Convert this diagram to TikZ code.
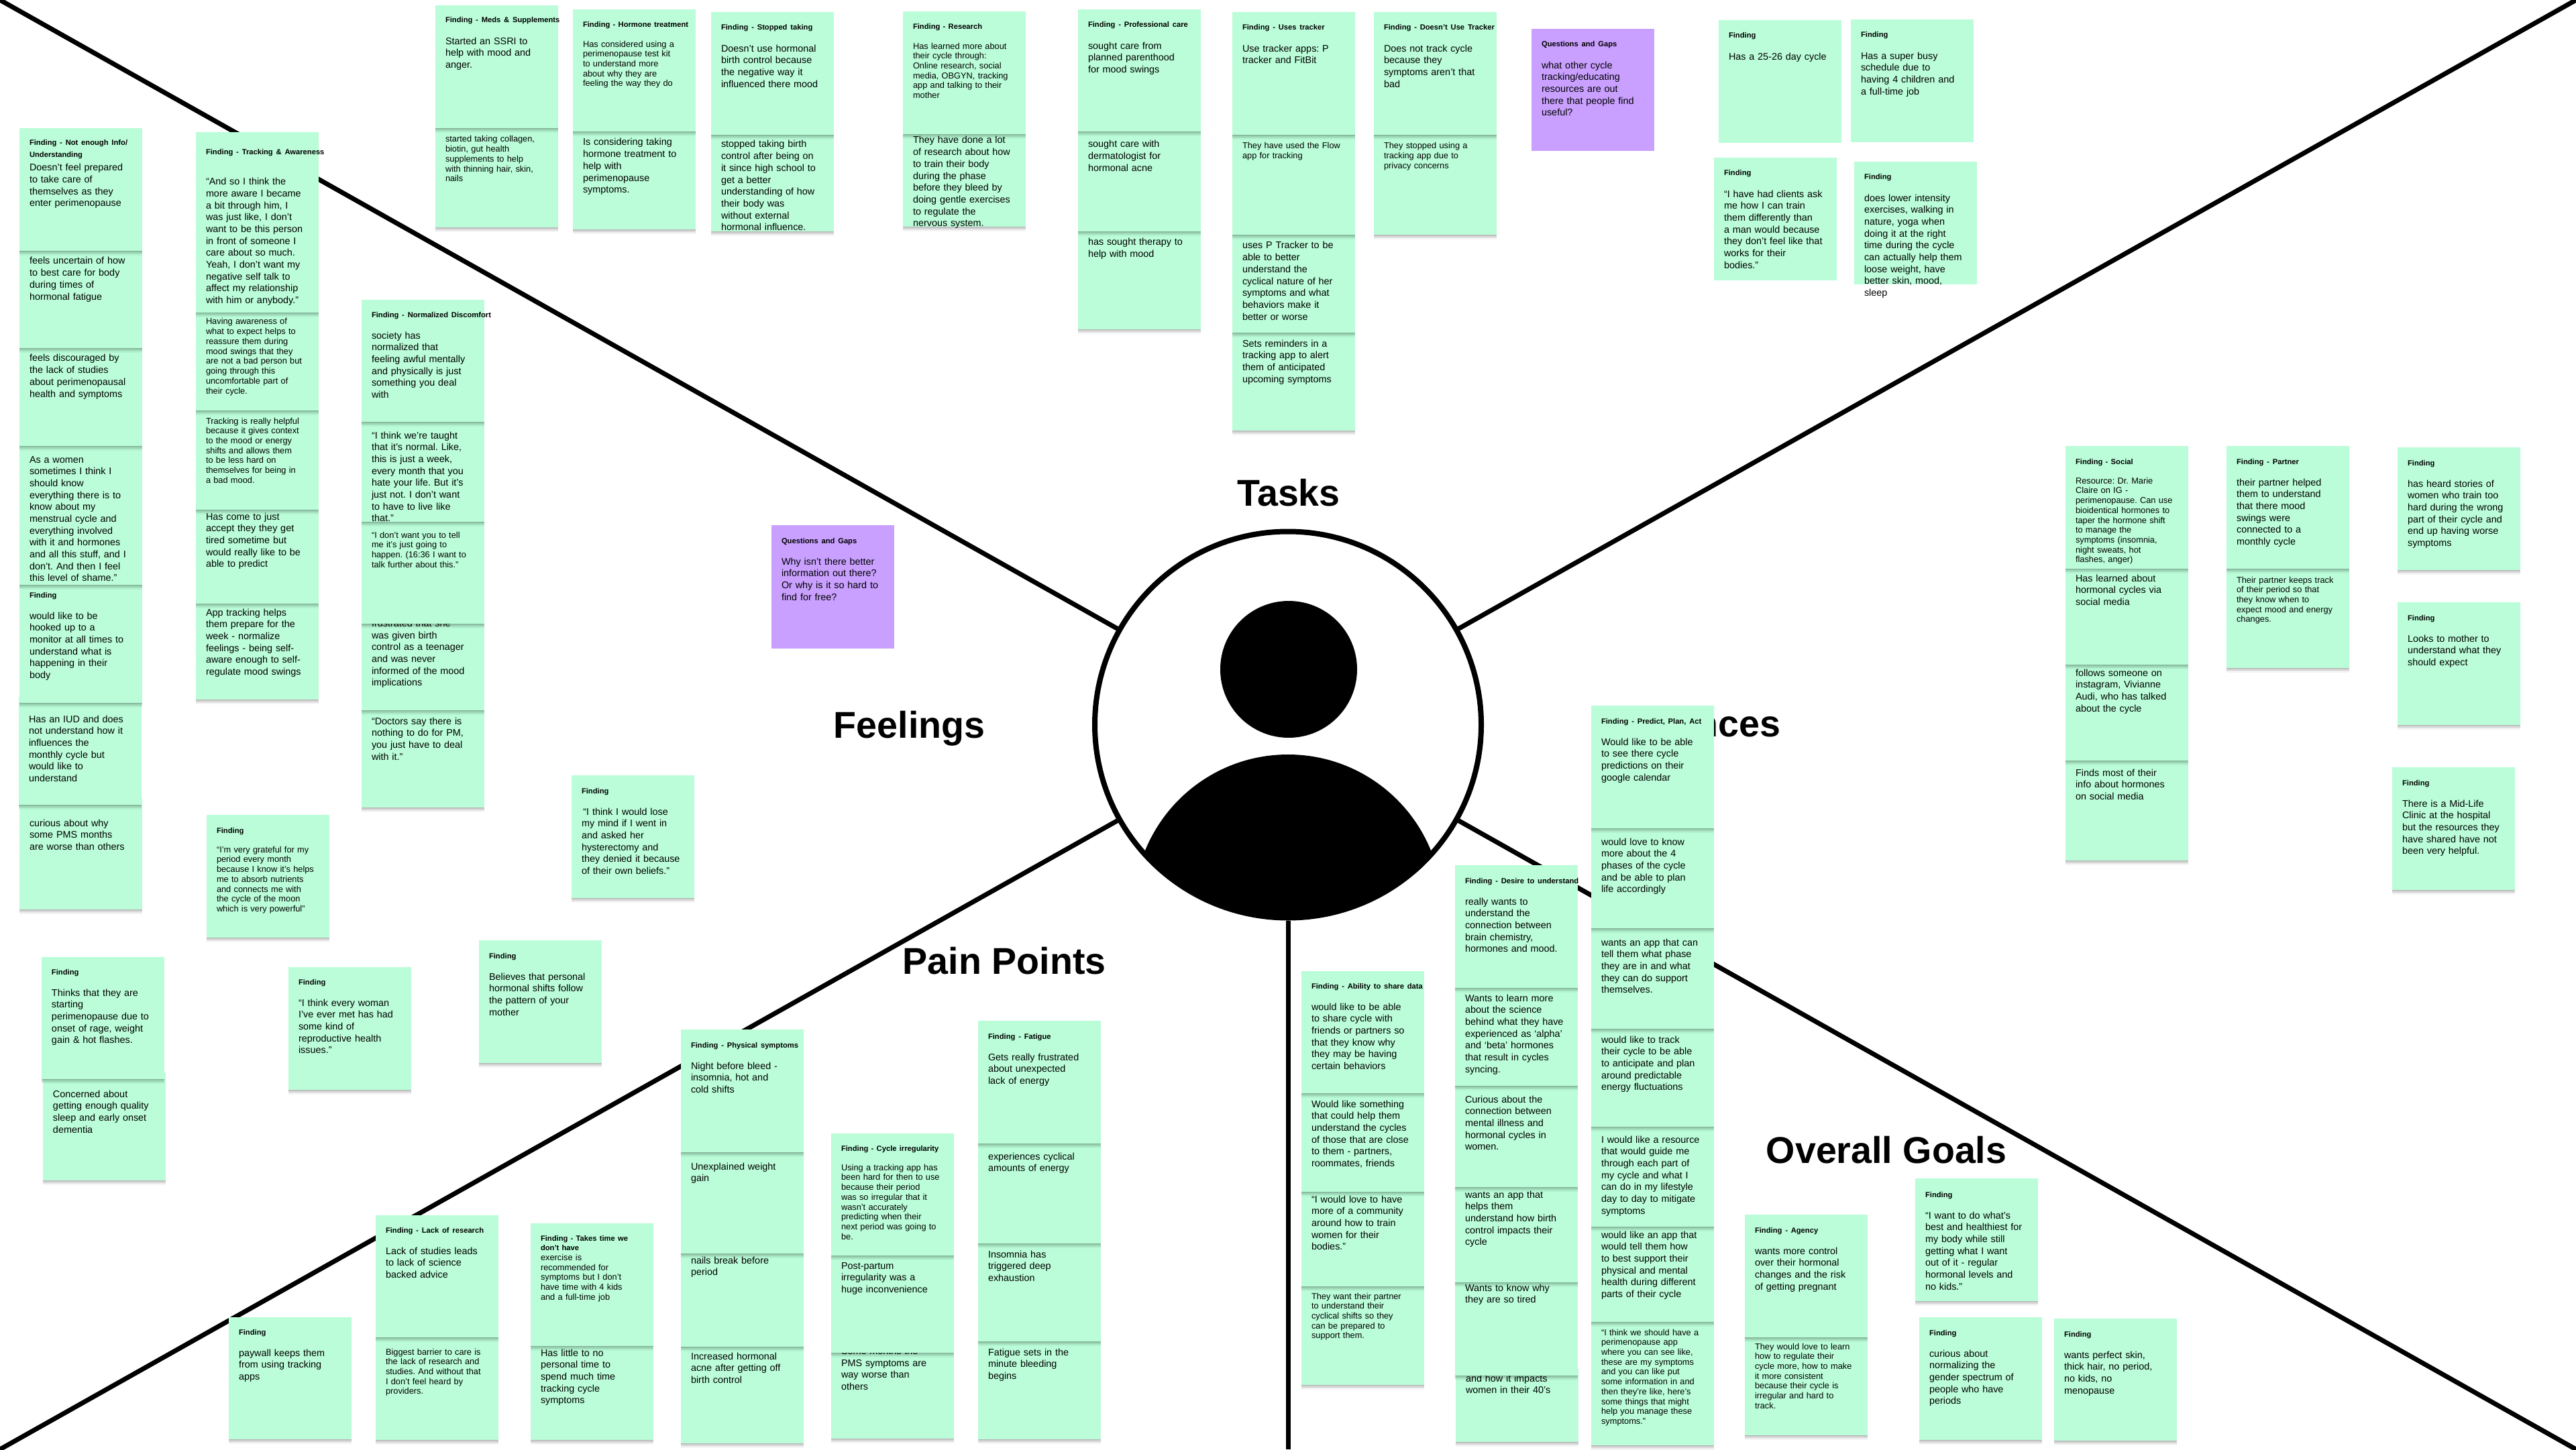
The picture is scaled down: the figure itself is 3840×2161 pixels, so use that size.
\documentclass[tikz,border=0pt]{standalone}
\usepackage{fontspec}
\setmainfont{Liberation Sans}
\usetikzlibrary{shadows}

\definecolor{mint}{HTML}{BAFDD8}
\definecolor{lilac}{HTML}{C9A0FF}
\newcommand{\bodyfont}{\fontsize{3.6pt}{4.42pt}\selectfont}
\newcommand{\smallbody}{\fontsize{3.2pt}{3.68pt}\selectfont}
\newcommand{\ttlfont}{\fontsize{2.8pt}{3.7pt}\selectfont\bfseries}
\newcommand{\ttl}[2][3.6pt]{{\ttlfont #2}\\[#1]}

\begin{document}
\begin{tikzpicture}[x=0.25pt,y=-0.25pt]
\tikzset{sized/.style 2 args={text height=#2*0.25pt, text depth=(#1-#2)*0.25pt}}
\tikzstyle{softshadow} = [drop shadow={shadow xshift=0pt, shadow yshift=-0.3pt, opacity=.08, fill=black},
drop shadow={shadow xshift=0pt, shadow yshift=-0.6pt, opacity=.08, fill=black},
drop shadow={shadow xshift=0pt, shadow yshift=-0.9pt, opacity=.07, fill=black},
drop shadow={shadow xshift=0pt, shadow yshift=-1.3pt, opacity=.05, fill=black},
drop shadow={shadow xshift=0pt, shadow yshift=-1.7pt, opacity=.04, fill=black}]
\tikzstyle{flatnote} = [rectangle, anchor=north west, fill=mint, text width=38.25pt, inner xsep=3.75pt,
inner ysep=0pt, outer sep=0pt, align=left, font=\bodyfont,
execute at begin node={\rightskip=-30pt plus 1fil\relax\frenchspacing}]
\tikzstyle{note} = [flatnote, softshadow]
\tikzstyle{small} = [font=\smallbody]
\tikzstyle{gapnote} = [flatnote, fill=lilac]
\tikzstyle{spoke} = [draw, line width=1.75pt]
\tikzstyle{heading} = [font=\fontsize{13.9pt}{16pt}\selectfont\bfseries, inner sep=0pt]

\useasboundingbox (0,0) rectangle (3840,2161);

\coordinate (nw) at (0,0);
\coordinate (ne) at (3840,0);
\coordinate (sw) at (0,2161);
\coordinate (se) at (3840,2161);
\coordinate (foot) at (1920,2161);

% person in the middle
\node [circle, draw, line width=2pt, fill=white, minimum size=144pt, inner sep=0pt] (persona) at (1920,1080.5) {};
\path [spoke] (persona) -- (nw);
\path [spoke] (persona) -- (ne);
\path [spoke] (persona) -- (sw);
\path [spoke] (persona) -- (se);
\path [spoke] (persona) -- (foot);
\node [circle, fill=black, minimum size=51pt, inner sep=0pt] (head) at (1921,998) {};
\begin{scope}
\clip (1920,1080.5) circle (288);
\fill [black] (1920,1355) circle (230);
\end{scope}

% headings
\node [heading, anchor=base] (tasks) at (1921,754) {Tasks};
\node [heading, anchor=base west] (feelings) at (1242,1100) {Feelings};
\node [heading, anchor=base east] (influences) at (2655,1098) {Influences};
\node [heading, anchor=base west] (painpoints) at (1345,1452) {Pain Points};
\node [heading, anchor=base west] (goals) at (2632,1734) {Overall Goals};

% not enough info
\node [note, sized={166}{42}] (info7) at (29,1190) {curious about why\\some PMS months\\are worse than others};
\node [note, sized={162}{39}] (info6) at (28,1038) {Has an IUD and does\\not understand how it\\influences the\\monthly cycle but\\would like to\\understand};
\node [note, sized={186}{29}] (info5) at (29,862) {\ttl{Finding}would like to be\\hooked up to a\\monitor at all times to\\understand what is\\happening in their\\body};
\node [note, sized={217}{35}] (info4) at (29,655) {As a women\\sometimes I think I\\should know\\everything there is to\\know about my\\menstrual cycle and\\everything involved\\with it and hormones\\and all this stuff, and I\\don't. And then I feel\\this level of shame.”};
\node [note, sized={156}{30}] (info3) at (29,509) {feels discouraged by\\the lack of studies\\about perimenopausal\\health and symptoms};
\node [note, sized={155}{30}] (info2) at (29,364) {feels uncertain of how\\to best care for body\\during times of\\hormonal fatigue};
\node [note, sized={183}{26}] (info1) at (29,191) {\ttl[0.6pt]{Finding - Not enough Info/\\Understanding}Doesn’t feel prepared\\to take care of\\themselves as they\\enter perimenopause};

% tracking and awareness
\node [note, sized={153}{28}] (aware5) at (292,890) {App tracking helps\\them prepare for the\\week - normalize\\feelings - being self-\\aware enough to self-\\regulate mood swings};
\node [note, sized={150}{25}] (aware4) at (292,750) {Has come to just\\accept they they get\\tired sometime but\\would really like to be\\able to predict};
\node [note, small, sized={158}{30}] (aware3) at (292,602) {Tracking is really helpful\\because it gives context\\to the mood or energy\\shifts and allows them\\to be less hard on\\themselves for being in\\a bad mood.};
\node [note, small, sized={156}{28}] (aware2) at (292,456) {Having awareness of\\what to expect helps to\\reassure them during\\mood swings that they\\are not a bad person but\\going through this\\uncomfortable part of\\their cycle.};
\node [note, sized={269}{34}] (aware1) at (292,197) {\ttl[6.8pt]{Finding - Tracking \& Awareness}“And so I think the\\more aware I became\\a bit through him, I\\was just like, I don't\\want to be this person\\in front of someone I\\care about so much.\\Yeah, I don't want my\\negative self talk to\\affect my relationship\\with him or anybody.”};

% normalized discomfort
\node [note, sized={155}{31}] (normal5) at (539,1049) {“Doctors say there is\\nothing to do for PM,\\you just have to deal\\with it.”};
\node [note, sized={139}{14.5}] (normal4) at (539,920) {frustrated that she\\was given birth\\control as a teenager\\and was never\\informed of the mood\\implications};
\node [note, small, sized={162}{34}] (normal3) at (539,768) {“I don't want you to tell\\me it's just going to\\happen. (16:36 I want to\\talk further about this.”};
\node [note, sized={159}{35}] (normal2) at (539,619) {“I think we're taught\\that it's normal. Like,\\this is just a week,\\every month that you\\hate your life. But it's\\just not. I don't want\\to have to live like\\that.”};
\node [note, sized={182}{26}] (normal1) at (539,447) {\ttl{Finding - Normalized Discomfort}society has\\normalized that\\feeling awful mentally\\and physically is just\\something you deal\\with};

% meds
\node [note, small, sized={158}{31}] (meds2) at (649,181) {started taking collagen,\\biotin, gut health\\supplements to help\\with thinning hair, skin,\\nails};
\node [note, sized={183}{26}] (meds1) at (649,8) {\ttl{Finding - Meds \& Supplements}Started an SSRI to\\help with mood and\\anger.};

% hormone treatment
\node [note, sized={156}{31}] (hormone2) at (854,186) {Is considering taking\\hormone treatment to\\help with\\perimenopause\\symptoms.};
\node [note, small, sized={182}{27}] (hormone1) at (854,14) {\ttl{Finding - Hormone treatment}Has considered using a\\perimenopause test kit\\to understand more\\about why they are\\feeling the way they do};

% stopped taking
\node [note, sized={154}{29}] (stopped2) at (1060,191) {stopped taking birth\\control after being on\\it since high school to\\get a better\\understanding of how\\their body was\\without external\\hormonal influence.};
\node [note, sized={183}{27}] (stopped1) at (1060,18) {\ttl{Finding - Stopped taking}Doesn’t use hormonal\\birth control because\\the negative way it\\influenced there mood};

% research
\node [note, sized={148}{24}] (research2) at (1346,190) {They have done a lot\\of research about how\\to train their body\\during the phase\\before they bleed by\\doing gentle exercises\\to regulate the\\nervous system.};
\node [note, small, sized={183}{27}] (research1) at (1346,17) {\ttl{Finding - Research}Has learned more about\\their cycle through:\\Online research, social\\media, OBGYN, tracking\\app and talking to their\\mother};

% professional care
\node [note, sized={156}{31}] (care3) at (1607,335) {has sought therapy to\\help with mood};
\node [note, sized={159}{34}] (care2) at (1607,186) {sought care with\\dermatologist for\\hormonal acne};
\node [note, sized={182}{27}] (care1) at (1607,14) {\ttl{Finding - Professional care}sought care from\\planned parenthood\\for mood swings};

% uses tracker
\node [note, sized={156}{31}] (tracker4) at (1837,486) {Sets reminders in a\\tracking app to alert\\them of anticipated\\upcoming symptoms};
\node [note, sized={156}{31}] (tracker3) at (1837,340) {uses P Tracker to be\\able to better\\understand the\\cyclical nature of her\\symptoms and what\\behaviors make it\\better or worse};
\node [note, small, sized={159}{31}] (tracker2) at (1837,191) {They have used the Flow\\app for tracking};
\node [note, sized={183}{27}] (tracker1) at (1837,18) {\ttl{Finding - Uses tracker}Use tracker apps: P\\tracker and FitBit};

% does not use tracker
\node [note, small, sized={159}{31}] (notrack2) at (2048,191) {They stopped using a\\tracking app due to\\privacy concerns};
\node [note, sized={183}{27}] (notrack1) at (2048,18) {\ttl{Finding - Doesn’t Use Tracker}Does not track cycle\\because they\\symptoms aren’t that\\bad};

% questions
\node [gapnote, sized={182}{27}] (gaps1) at (2283,43) {\ttl{Questions and Gaps}what other cycle\\tracking/educating\\resources are out\\there that people find\\useful?};
\node [gapnote, sized={184}{27}] (gaps2) at (1150,783) {\ttl{Questions and Gaps}Why isn’t there better\\information out there?\\Or why is it so hard to\\find for free?};

% top right, no shadow
\node [flatnote, sized={183}{27}] (cycle) at (2562,30) {\ttl{Finding}Has a 25-26 day cycle};
\node [flatnote, sized={183}{27}] (busy) at (2759,29) {\ttl{Finding}Has a super busy\\schedule due to\\having 4 children and\\a full-time job};
\node [flatnote, sized={183}{27}] (clients) at (2555,235) {\ttl{Finding}“I have had clients ask\\me how I can train\\them differently than\\a man would because\\they don’t feel like that\\works for their\\bodies.”};
\node [flatnote, sized={183}{27}] (lower) at (2764,241) {\ttl{Finding}does lower intensity\\exercises, walking in\\nature, yoga when\\doing it at the right\\time during the cycle\\can actually help them\\loose weight, have\\better skin, mood,\\sleep};

% social
\node [note, sized={159}{33}] (social4) at (3079,1124) {Finds most of their\\info about hormones\\on social media};
\node [note, sized={153}{27}] (social3) at (3079,981) {follows someone on\\instagram, Vivianne\\Audi, who has talked\\about the cycle};
\node [note, sized={153}{29}] (social2) at (3079,838) {Has learned about\\hormonal cycles via\\social media};
\node [note, small, sized={183}{27}] (social1) at (3079,665) {\ttl{Finding - Social}Resource: Dr. Marie\\Claire on IG -\\perimenopause. Can use\\bioidentical hormones to\\taper the hormone shift\\to manage the\\symptoms (insomnia,\\night sweats, hot\\flashes, anger)};

% partner
\node [note, small, sized={158}{31}] (partner2) at (3319,838) {Their partner keeps track\\of their period so that\\they know when to\\expect mood and energy\\changes.};
\node [note, sized={183}{27}] (partner1) at (3319,665) {\ttl{Finding - Partner}their partner helped\\them to understand\\that there mood\\swings were\\connected to a\\monthly cycle};

% far right
\node [note, sized={183}{27}] (stories) at (3574,667) {\ttl{Finding}has heard stories of\\women who train too\\hard during the wrong\\part of their cycle and\\end up having worse\\symptoms};
\node [note, sized={183}{27}] (mother) at (3574,898) {\ttl{Finding}Looks to mother to\\understand what they\\should expect};
\node [note, sized={183}{27}] (clinic) at (3566,1144) {\ttl{Finding}There is a Mid-Life\\Clinic at the hospital\\but the resources they\\have shared have not\\been very helpful.};

% feelings, single notes
\node [note, small, sized={183}{27}] (grateful) at (308,1215) {\ttl{Finding}“I'm very grateful for my\\period every month\\because I know it's helps\\me to absorb nutrients\\and connects me with\\the cycle of the moon\\which is very powerful”};
\node [note, sized={183}{27}] (lose) at (852,1156) {\ttl{Finding}\,“I think I would lose\\my mind if I went in\\and asked her\\hysterectomy and\\they denied it because\\of their own beliefs.”};
\node [note, sized={161}{37}] (concerned) at (64,1599) {Concerned about\\getting enough quality\\sleep and early onset\\dementia};
\node [note, sized={182}{26}] (thinks) at (62,1427) {\ttl{Finding}Thinks that they are\\starting\\perimenopause due to\\onset of rage, weight\\gain \& hot flashes.};
\node [note, sized={183}{26}] (everywoman) at (430,1442) {\ttl{Finding}“I think every woman\\I've ever met has had\\some kind of\\reproductive health\\issues.”};
\node [note, sized={183}{27}] (believes) at (714,1402) {\ttl{Finding}Believes that personal\\hormonal shifts follow\\the pattern of your\\mother};

% pain points
\node [note, sized={182}{26}] (paywall) at (341,1964) {\ttl{Finding}paywall keeps them\\from using tracking\\apps};
\node [note, small, sized={163}{36}] (research4) at (560,1984) {Biggest barrier to care is\\the lack of research and\\studies. And without that\\I don’t feel heard by\\providers.};
\node [note, sized={182}{26}] (research3) at (560,1812) {\ttl{Finding - Lack of research}Lack of studies leads\\to lack of science\\backed advice};
\node [note, sized={150}{25}] (time2) at (791,1997) {Has little to no\\personal time to\\spend much time\\tracking cycle\\symptoms};
\node [note, small, sized={183}{26}] (time1) at (791,1824) {{\ttlfont Finding - Takes time we\\don't have}\\exercise is\\recommended for\\symptoms but I don’t\\have time with 4 kids\\and a full-time job};

% physical symptoms
\node [note, sized={154}{29}] (physical4) at (1015,1998) {Increased hormonal\\acne after getting off\\birth control};
\node [note, sized={149}{25}] (physical3) at (1015,1859) {nails break before\\period};
\node [note, sized={161}{36}] (physical2) at (1015,1708) {Unexplained weight\\gain};
\node [note, sized={183}{27}] (physical1) at (1015,1535) {\ttl{Finding - Physical symptoms}Night before bleed -\\insomnia, hot and\\cold shifts};

% cycle irregularity
\node [note, sized={138}{12.5}] (irregular3) at (1239,2007) {Some months the\\PMS symptoms are\\way worse than\\others};
\node [note, sized={155}{30}] (irregular2) at (1239,1862) {Post-partum\\irregularity was a\\huge inconvenience};
\node [note, small, sized={182}{26}] (irregular1) at (1239,1690) {\ttl{Finding - Cycle irregularity}Using a tracking app has\\been hard for then to use\\because their period\\was so irregular that it\\wasn't accurately\\predicting when their\\next period was going to\\be.};

% fatigue
\node [note, sized={156}{31}] (fatigue4) at (1458,1990) {Fatigue sets in the\\minute bleeding\\begins};
\node [note, sized={156}{31}] (fatigue3) at (1458,1844) {Insomnia has\\triggered deep\\exhaustion};
\node [note, sized={159}{34}] (fatigue2) at (1458,1695) {experiences cyclical\\amounts of energy};
\node [note, sized={183}{27}] (fatigue1) at (1458,1522) {\ttl{Finding - Fatigue}Gets really frustrated\\about unexpected\\lack of energy};

% share data
\node [note, small, sized={157}{29}] (share4) at (1940,1908) {They want their partner\\to understand their\\cyclical shifts so they\\can be prepared to\\support them.};
\node [note, sized={151}{26}] (share3) at (1940,1767) {“I would love to have\\more of a community\\around how to train\\women for their\\bodies.”};
\node [note, sized={157}{31}] (share2) at (1940,1620) {Would like something\\that could help them\\understand the cycles\\of those that are close\\to them - partners,\\roommates, friends};
\node [note, sized={182}{26}] (share1) at (1940,1448) {\ttl{Finding - Ability to share data}would like to be able\\to share cycle with\\friends or partners so\\that they know why\\they may be having\\certain behaviors};

% desire to understand
\node [note, sized={109}{19}] (desire6) at (2170,2041) {and how it impacts\\women in their 40’s};
\node [note, sized={149}{23}] (desire5) at (2169,1902) {Wants to know why\\they are so tired};
\node [note, sized={152}{26}] (desire4) at (2169,1760) {wants an app that\\helps them\\understand how birth\\control impacts their\\cycle};
\node [note, sized={161}{35}] (desire3) at (2169,1609) {Curious about the\\connection between\\mental illness and\\hormonal cycles in\\women.};
\node [note, sized={156}{30}] (desire2) at (2169,1463) {Wants to learn more\\about the science\\behind what they have\\experienced as ‘alpha’\\and ‘beta’ hormones\\that result in cycles\\syncing.};
\node [note, sized={183}{27}] (desire1) at (2169,1290) {\ttl{Finding - Desire to understand}really wants to\\understand the\\connection between\\brain chemistry,\\hormones and mood.};

% predict plan act
\node [note, small, sized={194}{30}] (predict7) at (2372,1961) {“I think we should have a\\perimenopause app\\where you can see like,\\these are my symptoms\\and you can like put\\some information in and\\then they're like, here's\\some things that might\\help you manage these\\symptoms.”};
\node [note, sized={152}{27}] (predict6) at (2372,1819) {would like an app that\\would tell them how\\to best support their\\physical and mental\\health during different\\parts of their cycle};
\node [note, sized={159}{34}] (predict5) at (2372,1670) {I would like a resource\\that would guide me\\through each part of\\my cycle and what I\\can do in my lifestyle\\day to day to mitigate\\symptoms};
\node [note, sized={156}{31}] (predict4) at (2372,1524) {would like to track\\their cycle to be able\\to anticipate and plan\\around predictable\\energy fluctuations};
\node [note, sized={160}{36}] (predict3) at (2372,1374) {wants an app that can\\tell them what phase\\they are in and what\\they can do support\\themselves.};
\node [note, sized={159}{35}] (predict2) at (2372,1225) {would love to know\\more about the 4\\phases of the cycle\\and be able to plan\\life accordingly};
\node [note, sized={183}{27}] (predict1) at (2372,1052) {\ttl{Finding - Predict, Plan, Act}Would like to be able\\to see there cycle\\predictions on their\\google calendar};

% agency and goals
\node [note, small, sized={156}{28}] (agency2) at (2601,1984) {They would love to learn\\how to regulate their\\cycle more, how to make\\it more consistent\\because their cycle is\\irregular and hard to\\track.};
\node [note, sized={183}{27}] (agency1) at (2601,1811) {\ttl{Finding - Agency}wants more control\\over their hormonal\\changes and the risk\\of getting pregnant};
\node [note, sized={183}{28}] (healthiest) at (2855,1757) {\ttl{Finding}“I want to do what's\\best and healthiest for\\my body while still\\getting what I want\\out of it - regular\\hormonal levels and\\no kids.”};
\node [note, sized={183}{27}] (spectrum) at (2861,1964) {\ttl{Finding}curious about\\normalizing the\\gender spectrum of\\people who have\\periods};
\node [note, sized={182}{27}] (perfect) at (3062,1966) {\ttl{Finding}wants perfect skin,\\thick hair, no period,\\no kids, no\\menopause};
\end{tikzpicture}
\end{document}
